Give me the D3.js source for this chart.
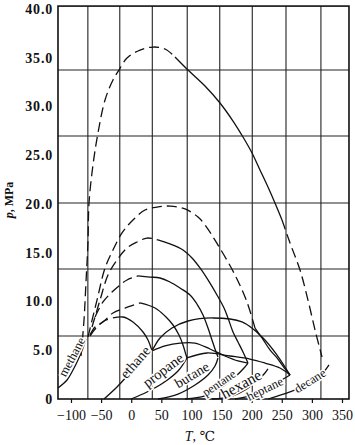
<!DOCTYPE html>
<html>
<head>
<meta charset="utf-8">
<script src="https://cdn.jsdelivr.net/npm/d3@7/dist/d3.min.js"></script>
<style>
body{margin:0;background:#fff;}
svg{display:block;}
</style>
</head>
<body>
<div id="chart"></div>
<script>
// axis ticks
var tempTicks=[-100,-50,0,50,100,150,200,250,300,350];
var presTicks=[0,5,10,15,20,25,30,35,40];
// grid (original chart grid, not on the tick values)
var gridT=[-72,-19,35,93,147,201,257,315];
var gridP=[6.46,13.33,20.10,26.97,33.74];
var frameT=[-121.6,361.6];
var frameP=[0,40.3];

// vapour pressure curves  [T, p]
var methaneVP=[[-121.6,1.13],[-106.6,1.95],[-96.7,2.97],[-88.4,4.0],[-80.1,5.23],[-75.1,6.15]];
var ethaneVP=[[-45.2,0],[-23.6,1.23],[-2.0,2.67],[19.6,4.0],[34.5,4.92]];
var propaneVP=[[-0.4,0],[26.2,0.72],[52.8,1.64],[77.7,2.87],[92.6,4.21]];
var butaneVP=[[44.5,0],[77.7,0.51],[105.9,1.44],[127.5,2.46],[139.1,3.38],[144.1,4.21]];
var pentaneVP=[[89.3,0],[122.5,0.31],[150.7,1.23],[174.0,2.36],[187.3,3.18],[193.9,3.69]];
var hexaneVP=[[134.1,0],[164.0,0.21],[188.9,0.92],[210.5,1.95],[222.1,2.67],[227.1,3.08]];
var heptaneVP=[[172.3,0],[197.2,0.31],[222.1,1.03],[247.0,1.85],[263.7,2.46]];
var decaneVP=[[227.1,0],[263.7,0.72],[296.9,1.64],[316.8,2.56],[328.4,3.49]];

// critical loci, dashed parts
var locusDashed=[
 [[-83.4,4.41],[-78.4,8.10],[-75.1,12.0],[-71.8,16.10],[-70.1,20.10],[-63.5,24.0],[-55.2,27.28],[-43.5,30.67],[-30.3,32.72],[-20.3,33.74],[-7.0,34.97],[14.6,35.79],[36.2,36.10],[56.1,35.90],[72.7,35.08]],
 [[250.4,18.36],[263.7,16.0],[280.3,13.23],[293.5,10.15],[305.2,7.08],[316.8,4.31]],
 [[-71.8,6.36],[-56.8,10.15],[-43.5,13.44],[-30.3,15.28],[-15.3,17.03],[2.9,18.36],[22.9,19.38],[42.8,19.69],[64.4,19.79],[89.3,19.49],[110.9,18.67],[122.5,17.85],[144.1,15.79],[172.3,12.72],[192.2,9.95],[205.5,7.28]],
 [[-65.1,7.38],[-51.8,10.15],[-38.6,12.72],[-23.6,14.26],[-7.0,15.49],[9.6,16.10],[26.2,16.51],[44.5,16.31]],
 [[-60.1,8.41],[-46.9,9.95],[-31.9,10.97],[-18.6,11.69],[-7.0,12.21],[11.3,12.62]],
 [[-68.5,6.56],[-60.1,7.38],[-46.9,7.90],[-30.3,8.82],[-10.3,9.33],[14.6,9.85]],
 [[-68.5,6.46],[-58.5,7.28],[-45.2,8.0],[-30.3,8.31]]
];
// critical loci, solid parts
var locusSolid=[
 [[72.7,35.08],[94.3,33.74],[122.5,32.10],[147.4,30.36],[169.0,28.51],[185.6,26.87],[200.6,25.23],[213.8,23.49],[227.1,21.74],[238.7,20.10],[250.4,18.36]],
 [[205.5,7.28],[217.2,6.26],[230.4,5.03],[242.1,4.21],[252.0,3.38],[263.7,2.46]],
 [[44.5,16.31],[64.4,15.90],[86.0,15.28],[100.9,14.46],[114.2,13.44],[127.5,12.21],[142.4,10.67],[154.1,9.33],[160.7,8.31],[169.0,6.87],[177.3,5.85],[185.6,4.82],[193.9,3.69]],
 [[11.3,12.62],[31.2,12.51],[47.8,12.41],[64.4,12.0],[81.0,11.38],[97.6,10.67],[109.2,9.74],[119.2,8.62],[127.5,7.28],[134.1,6.05],[139.1,5.13],[144.1,4.31]],
 [[14.6,9.85],[39.5,9.33],[56.1,8.51],[69.4,7.59],[79.3,6.56],[86.0,5.54],[91.0,4.51],[92.6,4.21]],
 [[-30.3,8.31],[-13.7,8.41],[2.9,7.90],[19.6,6.87],[27.9,6.05],[34.5,4.92]],
 [[34.5,4.92],[47.8,6.26],[67.7,7.28],[94.3,8.0],[135.8,8.31],[183.9,7.90],[217.2,6.36],[242.1,4.51],[263.7,2.46]],
 [[34.5,4.92],[56.1,5.44],[81.0,5.74],[105.9,5.74],[130.8,5.13],[155.7,4.41],[177.3,3.90],[193.9,3.69]],
 [[92.6,4.21],[125.8,4.72],[164.0,4.41],[197.2,4.10],[222.1,3.69],[247.0,3.18],[263.7,2.46]]
];

var curveNames=["methane","ethane","propane","butane","pentane","hexane","heptane","decane"];
var labelT=[-98.3,6.3,52.8,100.9,145.8,182.3,222.1,296.9];
var labelP=[4.31,3.79,2.97,2.46,1.64,1.54,1.03,1.85];
var labelAngle=[-62,-49,-37,-31,-34,-29,-26,-32];
var labelSize=[12.5,14.5,14.5,14,12,15.5,12.5,12.5];

var W=355,H=445;
var x=d3.scaleLinear().domain([-100,350]).range([71,342]);
var y=d3.scaleLinear().domain([0,40]).range([399,9]);

var svg=d3.select("#chart").append("svg")
	.attr("width",W)
	.attr("height",H)
	.style("background","#fff");

var line=d3.line()
	.x(function(d){return x(d[0]);})
	.y(function(d){return y(d[1]);})
	.curve(d3.curveCatmullRom.alpha(0.5));

// grid
svg.append("g").selectAll("line")
	.data(gridT).enter().append("line")
	.attr("x1",function(d){return x(d);}).attr("x2",function(d){return x(d);})
	.attr("y1",y(frameP[0])).attr("y2",y(frameP[1]))
	.attr("stroke","#222").attr("stroke-width",1.1);
svg.append("g").selectAll("line")
	.data(gridP).enter().append("line")
	.attr("x1",x(frameT[0])).attr("x2",x(frameT[1]))
	.attr("y1",function(d){return y(d);}).attr("y2",function(d){return y(d);})
	.attr("stroke","#222").attr("stroke-width",1.1);

// frame
svg.append("rect")
	.attr("x",x(frameT[0])).attr("y",y(frameP[1]))
	.attr("width",x(frameT[1])-x(frameT[0]))
	.attr("height",y(frameP[0])-y(frameP[1]))
	.attr("fill","none").attr("stroke","#111").attr("stroke-width",1.6);

// axes
var xAxis=svg.append("g")
	.attr("transform","translate(0,"+y(0)+")")
	.call(d3.axisBottom(x).tickValues(tempTicks).tickSize(4).tickPadding(7));
xAxis.select(".domain").remove();
xAxis.selectAll("line").attr("stroke","#111").attr("stroke-width",1.2);
xAxis.selectAll("text")
	.attr("font-family","'Liberation Serif','DejaVu Serif',serif")
	.attr("font-size",14).attr("fill","#111");

var yAxis=svg.append("g")
	.attr("transform","translate("+x(frameT[0])+",0)")
	.call(d3.axisLeft(y).tickValues(presTicks).tickSize(0).tickPadding(5)
		.tickFormat(function(d){return d===0?"0":d.toFixed(1);}));
yAxis.select(".domain").remove();
yAxis.selectAll("text")
	.attr("font-family","'Liberation Serif','DejaVu Serif',serif")
	.attr("font-weight","bold")
	.attr("font-size",14).attr("fill","#111")
	.attr("letter-spacing",0.8);

// curves
var curves=svg.append("g").attr("fill","none").attr("stroke","#111").attr("stroke-width",1.3);
[methaneVP,ethaneVP,propaneVP,butaneVP,pentaneVP,hexaneVP,heptaneVP,decaneVP].forEach(function(c){
	curves.append("path").attr("d",line(c));
});
locusSolid.forEach(function(c){
	curves.append("path").attr("d",line(c));
});
locusDashed.forEach(function(c){
	curves.append("path").attr("d",line(c)).attr("stroke-dasharray","10,5");
});

// curve labels
svg.append("g").selectAll("text")
	.data(curveNames).enter().append("text")
	.text(function(d){return d;})
	.attr("transform",function(d,i){
		return "translate("+x(labelT[i])+","+y(labelP[i])+") rotate("+labelAngle[i]+")";})
	.attr("text-anchor","middle")
	.attr("dominant-baseline","central")
	.attr("font-family","'Liberation Serif','DejaVu Serif',serif")
	.attr("font-size",function(d,i){return labelSize[i];})
	.attr("fill","#111")
	.attr("stroke","#fff").attr("stroke-width",3)
	.style("paint-order","stroke");

// axis titles
var tTitle=svg.append("text")
	.attr("x",200).attr("y",441)
	.attr("text-anchor","middle")
	.attr("font-family","'Liberation Serif','DejaVu Serif',serif")
	.attr("font-size",14).attr("fill","#111");
tTitle.append("tspan").attr("font-style","italic").text("T");
tTitle.append("tspan").text(", \u2103");

var pTitle=svg.append("text")
	.attr("transform","translate(13,200) rotate(-90)")
	.attr("text-anchor","middle")
	.attr("font-family","'Liberation Serif','DejaVu Serif',serif")
	.attr("font-size",12).attr("font-weight","bold").attr("fill","#111");
pTitle.append("tspan").attr("font-style","italic").text("p");
pTitle.append("tspan").text(", MPa");
</script>
</body>
</html>
